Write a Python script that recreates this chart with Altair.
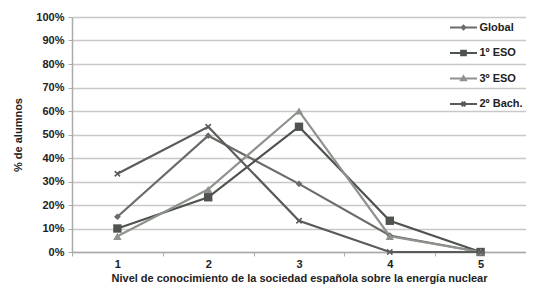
import altair as alt
import pandas as pd

niveles = [1, 2, 3, 4, 5]
series = ["Global", "1º ESO", "3º ESO", "2º Bach."]
global_vals = [15.0, 49.5, 29.0, 7.0, 0.0]
eso1_vals = [10.0, 23.3, 53.3, 13.3, 0.0]
eso3_vals = [6.7, 26.7, 60.0, 6.7, 0.0]
bach2_vals = [33.3, 53.3, 13.3, 0.0, 0.0]

values = {"Global": global_vals, "1º ESO": eso1_vals, "3º ESO": eso3_vals, "2º Bach.": bach2_vals}
rows = []
for s in series:
    for n, v in zip(niveles, values[s]):
        rows.append({"Nivel": str(n), "Valor": v / 100.0, "Serie": s})
df = pd.DataFrame(rows)

colors = ["#6b6c68", "#4f534f", "#8f938d", "#5a5b58"]
color_of = dict(zip(series, colors))
marker_shapes = {
    "Global": "diamond",
    "1º ESO": "square",
    "3º ESO": "triangle-up",
    "2º Bach.": "M-1,-1L1,1M-1,1L1,-1",
}
marker_sizes = {"Global": 45, "1º ESO": 70, "3º ESO": 70, "2º Bach.": 28}
legend_paths = [
    "M-2.7,0L2.7,0M0,-0.35L0.35,0L0,0.35L-0.35,0Z",
    "M-2.7,0L2.7,0M-0.45,-0.45L0.45,-0.45L0.45,0.45L-0.45,0.45Z",
    "M-2.7,0L2.7,0M0,-0.4L0.45,0.35L-0.45,0.35Z",
    "M-2.7,0L2.7,0M-0.35,-0.45L0.35,0.45M-0.35,0.45L0.35,-0.45",
]

font = "Liberation Sans"
x_enc = alt.X(
    "Nivel:O",
    scale=alt.Scale(paddingInner=0, paddingOuter=0),
    axis=alt.Axis(
        title="Nivel de conocimiento de la sociedad española sobre la energía nuclear",
        labelAngle=0, tickBand="extent", grid=False,
        domainColor="#ababab", tickColor="#ababab", tickSize=4, domainWidth=1.5,
        labelFont=font, labelFontSize=11, labelFontWeight="bold", labelColor="#222",
        labelPadding=2, titleFont=font, titleFontSize=11, titleFontWeight="bold",
        titleColor="#222", titlePadding=3,
    ),
)
y_enc = alt.Y(
    "Valor:Q",
    scale=alt.Scale(domain=[0, 1], nice=False),
    axis=alt.Axis(
        title="% de alumnos", format=".0%", tickCount=10,
        gridColor="#c8c8c6", gridWidth=1.6,
        domainColor="#ababab", tickColor="#ababab", tickSize=4, domainWidth=1.5,
        labelFont=font, labelFontSize=11, labelFontWeight="bold", labelColor="#222",
        labelPadding=4, labelOverlap=False, titleFont=font, titleFontSize=11,
        titleFontWeight="bold", titleColor="#222", titlePadding=12,
    ),
)

layers = []
for s in series:
    base = alt.Chart(df).transform_filter(alt.datum.Serie == s)
    layers.append(
        base.mark_line(strokeWidth=2.2, color=color_of[s]).encode(x=x_enc, y=y_enc)
    )
for s in series:
    base = alt.Chart(df).transform_filter(alt.datum.Serie == s)
    if s == "2º Bach.":
        m = base.mark_point(shape=marker_shapes[s], size=marker_sizes[s], filled=False,
                            strokeWidth=1.5, opacity=1, color=color_of[s])
    else:
        m = base.mark_point(shape=marker_shapes[s], size=marker_sizes[s], filled=True,
                            opacity=1, color=color_of[s])
    layers.append(m.encode(x=x_enc, y=y_enc))

legend_layer = alt.Chart(df).mark_point(filled=True, strokeWidth=2.2, opacity=1).encode(
    x=x_enc, y=y_enc,
    size=alt.value(0),
    shape=alt.Shape("Serie:N", scale=alt.Scale(domain=series, range=legend_paths)),
    stroke=alt.Stroke("Serie:N", scale=alt.Scale(domain=series, range=colors)),
    fill=alt.Fill("Serie:N", scale=alt.Scale(domain=series, range=colors)),
)
layers.append(legend_layer)

chart = alt.layer(*layers).properties(
    width=454, height=235,
    autosize=alt.AutoSizeParams(type="none"),
    padding={"left": 64, "top": 9, "right": 0, "bottom": 34},
).configure_view(stroke=None).configure_legend(
    title=None, orient="none", legendX=385, legendY=4, padding=0,
    symbolSize=100, symbolStrokeWidth=2.2, symbolOpacity=1, rowPadding=11.5,
    labelOffset=9.5,
    labelFont=font, labelFontSize=11, labelFontWeight="bold", labelColor="#222",
)

chart.save("out.html", embed_options={"renderer": "svg", "actions": False})
